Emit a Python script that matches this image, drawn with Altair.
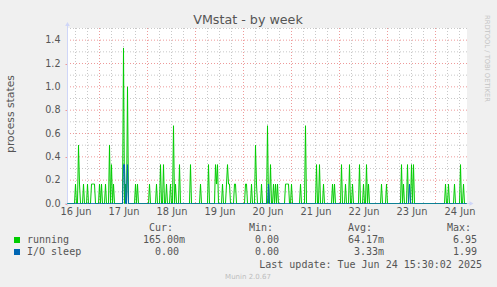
import json
import altair as alt
import pandas as pd

# ---------------- data ----------------
SLOTS = 400  # one sample per 30 minutes, first slot = Mon 16 Jun 08:00
day_labels = ["16 Jun", "17 Jun", "18 Jun", "19 Jun", "20 Jun",
              "21 Jun", "22 Jun", "23 Jun", "24 Jun"]
y_ticks = [0.0, 0.2, 0.4, 0.6, 0.8, 1.0, 1.2, 1.4]

# non-zero samples: slot index and value in sixths (all other slots are 0)
running_slot = [8, 11, 12, 16, 20, 24, 25, 26, 27, 32, 34, 38, 42, 44, 46,
                56, 58, 60, 68, 70, 82, 89, 93, 96, 99, 103, 106, 108, 112,
                123, 133, 141, 148, 149, 150, 155, 159, 160, 161, 162, 167,
                168, 178, 179, 184, 188, 189, 194, 200, 203, 206, 208, 210,
                218, 219, 220, 221, 224, 233, 238, 249, 252, 256, 265, 267,
                274, 278, 282, 285, 292, 296, 299, 301, 314, 319, 334, 336,
                340, 344, 346, 378, 381, 387, 393, 396]
running_sixths = [1, 3, 1, 1, 1, 1, 1, 1, 1, 1, 1, 1, 3, 2, 1,
                  8, 1, 6, 1, 1, 1, 1, 2, 2, 1, 1, 4, 1, 2,
                  2, 1, 2, 2, 1, 2, 1, 1, 2, 1, 1, 1,
                  1, 1, 1, 1, 3, 1, 1, 4, 2, 1, 1, 1,
                  1, 1, 1, 1, 1, 1, 4, 2, 2, 1, 1, 1,
                  2, 1, 2, 1, 2, 1, 2, 1, 1, 1, 2, 1,
                  2, 2, 2, 1, 1, 1, 2, 1]
iosleep_slot = [56, 57, 60, 201, 342]
iosleep_sixths = [2, 2, 2, 1, 1]

series_names = ["running", "I/O sleep"]
series_colors = ["#00CC00", "#0066B3"]
stat_cur = ["165.00m", "0.00"]
stat_min = ["0.00", "0.00"]
stat_avg = ["64.17m", "3.33m"]
stat_max = ["6.95", "1.99"]
last_update = "Last update: Tue Jun 24 15:30:02 2025"


def full_series(slots, sixths):
    vals = [0.0] * SLOTS
    for s, n in zip(slots, sixths):
        vals[s] = n / 6.0
    return vals


df = pd.DataFrame({
    "slot": list(range(SLOTS)),
    "running": full_series(running_slot, running_sixths),
    "iosleep": full_series(iosleep_slot, iosleep_sixths),
})

# ---------------- layout ----------------
L, T, W, H = 67, 28, 400, 175
FONT = "DejaVu Sans"
MONO = "DejaVu Sans Mono"
TXT = "#555555"
AXIS_C = "#CFD6F8"
GRID_C = "#C8C8C8"
MGRID_C = "#EE9A9A"

x_scale = alt.Scale(domain=[0, SLOTS], range=[0.5, W + 0.5], nice=False, zero=False)
y_scale = alt.Scale(domain=[0, 1.5], range=[H + 0.5, 0.5], nice=False, zero=True)

label_slots = [8 + 48 * i for i in range(len(day_labels))]
minor_v = [s for s in range(8, SLOTS, 12) if (s - 32) % 48 != 0]
major_v = list(range(32, SLOTS, 48))
minor_h = [round(0.1 + 0.2 * i, 2) for i in range(8)]
major_h = [round(0.2 * i, 2) for i in range(1, 8)]

label_expr = f"{json.dumps(day_labels)}[round((datum.value - 8) / 48)]"
x_axis = alt.Axis(
    values=label_slots, labelExpr=label_expr, title=None, domain=False,
    ticks=False, grid=False, labelFont=FONT, labelFontSize=9.8,
    labelColor=TXT, labelPadding=3, labelFlush=False, labelOverlap=False)
y_axis = alt.Axis(
    values=y_ticks, title=None, domain=False, tickSize=2, labels=False,
    tickColor=MGRID_C, grid=False)


def xenc(field, axis=None):
    if axis is None:
        return alt.X(field, scale=x_scale)
    return alt.X(field, scale=x_scale, axis=axis)


def yenc(field, axis=None):
    if axis is None:
        return alt.Y(field, scale=y_scale)
    return alt.Y(field, scale=y_scale, axis=axis)


def vrules(vals, color, axis=None):
    return alt.Chart(pd.DataFrame({"g": vals})).mark_rule(
        color=color, strokeWidth=1, strokeDash=[1, 2]
    ).encode(x=xenc("g:Q", axis))


def hrules(vals, color, axis=None):
    return alt.Chart(pd.DataFrame({"g": vals})).mark_rule(
        color=color, strokeWidth=1, strokeDash=[1, 2]
    ).encode(y=yenc("g:Q", axis))


def txt(s, x, y, size=10, font=MONO, color=TXT, align="left",
        baseline="alphabetic", angle=None):
    kw = dict(font=font, fontSize=size, color=color, align=align, baseline=baseline)
    if angle is not None:
        kw["angle"] = angle
    return alt.Chart(pd.DataFrame({"t": [s]})).mark_text(**kw).encode(
        text="t:N", x=alt.value(x - L), y=alt.value(y - T))


y_labels = alt.Chart(pd.DataFrame({"v": y_ticks})).mark_text(
    font=FONT, fontSize=9.6, color=TXT, align="right", baseline="middle"
).encode(y=yenc("v:Q"), x=alt.value(-6.5), text=alt.Text("v:Q", format=".1f"))

running_line = alt.Chart(df).mark_line(
    color=series_colors[0], strokeWidth=1, interpolate="linear"
).encode(x=xenc("slot:Q"), y=yenc("running:Q"))

io_line = alt.Chart(df).mark_line(
    color=series_colors[1], strokeWidth=1, interpolate="linear"
).encode(x=xenc("slot:Q"), y=yenc("iosleep:Q"))

one = pd.DataFrame({"a": [0]})
y_axis_line = alt.Chart(one).mark_rule(color=AXIS_C, strokeWidth=1).encode(
    x=alt.value(0.5), y=alt.value(-3), y2=alt.value(H + 2.5))
x_axis_line = alt.Chart(one).mark_rule(color=AXIS_C, strokeWidth=1).encode(
    x=alt.value(-2), x2=alt.value(W + 4), y=alt.value(H + 0.5))
y_arrow = alt.Chart(one).mark_point(shape="triangle-up", filled=True, size=22,
                                    color=AXIS_C, opacity=1).encode(
    x=alt.value(0.5), y=alt.value(-4))
x_arrow = alt.Chart(one).mark_point(shape="triangle-right", filled=True, size=22,
                                    color=AXIS_C, opacity=1).encode(
    x=alt.value(W + 4.5), y=alt.value(H + 0.5))

texts = [
    txt("VMstat - by week", 248, 24, size=12.7, font=FONT, align="center"),
    txt("process states", 11, 114, size=10.8, font=FONT, align="center",
        baseline="middle", angle=270),
    txt("RRDTOOL / TOBI OETIKER", 487, 15, size=6.75, font=FONT,
        color="#C4C4C4", baseline="middle", angle=90),
    txt("Cur:", 149, 231), txt("Min:", 249, 231),
    txt("Avg:", 348, 231), txt("Max:", 447, 231),
    txt(last_update, 482, 267.5, align="right"),
    txt("Munin 2.0.67", 248, 279, size=7, font=FONT, color="#BDBDBD",
        align="center"),
]

row_y = [243, 255]
cur_x = [143, 155]
avg_x = [348, 354]
legend_layers = []
for i, name in enumerate(series_names):
    legend_layers.append(
        alt.Chart(one).mark_square(size=36, filled=True, opacity=1,
                                   color=series_colors[i]).encode(
            x=alt.value(17 - L), y=alt.value(row_y[i] - 3 - T)))
    legend_layers.append(txt(name, 27, row_y[i]))
    legend_layers.append(txt(stat_cur[i], cur_x[i], row_y[i]))
    legend_layers.append(txt(stat_min[i], 255, row_y[i]))
    legend_layers.append(txt(stat_avg[i], avg_x[i], row_y[i]))
    legend_layers.append(txt(stat_max[i], 453, row_y[i]))

chart = alt.layer(
    vrules(minor_v, GRID_C, axis=x_axis), hrules(minor_h, GRID_C, axis=y_axis),
    vrules(major_v, MGRID_C), hrules(major_h, MGRID_C),
    y_axis_line, x_axis_line, y_arrow, x_arrow,
    running_line, io_line, y_labels,
    *texts, *legend_layers,
).properties(
    width=W, height=H,
    autosize=alt.AutoSizeParams(type="none"),
    padding={"left": L, "top": T, "right": 497 - L - W, "bottom": 287 - T - H},
    background="#F0F0F0",
).configure_view(fill="#FFFFFF", stroke=None)

chart.save("out.html", embed_options={"renderer": "svg", "actions": False})
